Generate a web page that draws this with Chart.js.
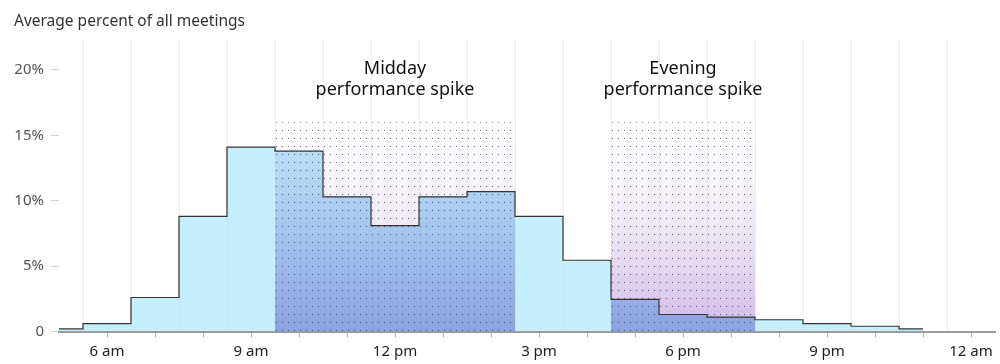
<!DOCTYPE html>
<html>
<head>
<meta charset="utf-8">
<script src="https://cdn.jsdelivr.net/npm/chart.js@4.4.1/dist/chart.umd.min.js"></script>
<style>
  html, body { margin: 0; padding: 0; background: #fff; }
  #wrap { width: 1000px; height: 364px; }
</style>
</head>
<body>
<div id="wrap"><canvas id="mainChart"></canvas></div>
<script>
// Datos: porcentaje medio de reuniones por hora del día
const hours = [5, 6, 7, 8, 9, 10, 11, 12, 13, 14, 15, 16, 17, 18, 19, 20, 21, 22, 23];
const pct = [0.2, 0.6, 2.6, 8.8, 14.1, 13.8, 10.3, 8.1, 10.3, 10.7, 8.8, 5.45, 2.45, 1.3, 1.1, 0.9, 0.6, 0.4, 0.2];

// Ejes
const labelHours = [6, 9, 12, 15, 18, 21, 24];
const labelText = ['6 am', '9 am', '12 pm', '3 pm', '6 pm', '9 pm', '12 am'];
const yTicks = [0, 5, 10, 15, 20];

// Zonas destacadas (primera y última hora de cada una)
const spikeNames = [['Midday', 'performance spike'], ['Evening', 'performance spike']];
const spikeFirst = [10, 17];
const spikeLast = [14, 19];
const spikeTop = 16;

const FONT = '"Noto Sans", "Open Sans", sans-serif';

function vGrad(chart, top, bottom) {
    const { ctx, chartArea, scales } = chart;
    if (!chartArea || !scales.y) return bottom;
    const g = ctx.createLinearGradient(0, scales.y.getPixelForValue(spikeTop), 0, scales.y.getPixelForValue(0));
    g.addColorStop(0, top);
    g.addColorStop(1, bottom);
    return g;
}

// patrón de puntos 6x8
const dotCanvas = document.createElement('canvas');
dotCanvas.width = 6;
dotCanvas.height = 8;
const dctx = dotCanvas.getContext('2d');
dctx.fillStyle = 'rgba(40, 40, 40, 0.7)';
dctx.fillRect(0, 2, 1, 1);
const dots = dctx.createPattern(dotCanvas, 'repeat');

const mainPoints = hours.map((h, i) => ({ x: h, y: pct[i] }));

const datasets = [];
spikeFirst.forEach((first, i) => {
    const last = spikeLast[i];
    const box = [{ x: first - 0.5, y: spikeTop }, { x: last + 0.5, y: spikeTop }];
    const part = [];
    for (let h = first; h <= last; h++) part.push({ x: h - 0.5, y: pct[hours.indexOf(h)] });
    part.push({ x: last + 0.5, y: pct[hours.indexOf(last)] });

    datasets.push({
        data: box, order: 5, stepped: 'before', fill: 'origin', borderWidth: 0, pointRadius: 0,
        backgroundColor: c => vGrad(c.chart, 'rgba(235, 225, 245, 0.05)', 'rgba(188, 158, 220, 0.72)')
    });
    datasets.push({
        data: part, order: 3, stepped: 'before', fill: 'origin', borderWidth: 0, pointRadius: 0,
        backgroundColor: c => vGrad(c.chart, 'rgba(190, 230, 250, 0.8)', 'rgba(132, 150, 222, 0.8)')
    });
    datasets.push({
        data: box, order: 2, stepped: 'before', fill: 'origin', borderWidth: 0, pointRadius: 0,
        backgroundColor: dots
    });
});

// relleno cian y línea escalonada
datasets.push({
    data: mainPoints, order: 4, stepped: 'middle', fill: 'origin', borderWidth: 0, pointRadius: 0,
    backgroundColor: 'rgba(150, 225, 250, 0.55)'
});
datasets.push({
    data: mainPoints, order: 1, stepped: 'middle', fill: false, borderWidth: 1.2, pointRadius: 0,
    borderColor: '#333333'
});

const spikeLabels = {
    id: 'spikeLabels',
    afterDatasetsDraw(chart) {
        const { ctx, scales: { x, y } } = chart;
        const top = y.getPixelForValue(spikeTop);
        ctx.save();
        ctx.font = '18px ' + FONT;
        ctx.fillStyle = '#111';
        ctx.textAlign = 'center';
        ctx.textBaseline = 'middle';
        spikeNames.forEach((lines, i) => {
            const cx = x.getPixelForValue((spikeFirst[i] + spikeLast[i]) / 2);
            ctx.fillText(lines[0], cx, top - 53);
            ctx.fillText(lines[1], cx, top - 32);
        });
        ctx.restore();
    }
};

new Chart(document.getElementById('mainChart'), {
    type: 'line',
    data: { datasets },
    plugins: [spikeLabels],
    options: {
        responsive: true,
        maintainAspectRatio: false,
        animation: false,
        layout: { padding: { left: 14, right: 5, top: 0, bottom: 0 } },
        plugins: {
            legend: { display: false },
            tooltip: { enabled: false },
            title: {
                display: true,
                text: 'Average percent of all meetings',
                align: 'start',
                color: '#333',
                font: { size: 15.5, family: FONT, weight: 'normal' },
                padding: { top: 12, bottom: 8 }
            }
        },
        scales: {
            x: {
                type: 'linear', min: 5, max: 24.5,
                afterBuildTicks: s => {
                    const t = [];
                    for (let h = 6; h <= 24; h++) t.push({ value: h });
                    s.ticks = t;
                },
                ticks: {
                    autoSkip: false, maxRotation: 0, padding: 5, color: '#222',
                    font: { size: 15, family: FONT },
                    callback: v => {
                        const k = labelHours.indexOf(v);
                        return k < 0 ? '' : labelText[k];
                    }
                },
                grid: { drawOnChartArea: false, drawTicks: true, tickLength: 6, color: '#b5b5b5' },
                border: { display: true, color: '#9a9a9a', width: 2 },
                afterFit: s => { s.height = 32.5; }
            },
            xg: {
                type: 'linear', position: 'bottom', min: 5, max: 24.5,
                afterBuildTicks: s => { s.ticks = hours.map(h => ({ value: h + 0.5 })); },
                ticks: { display: false },
                grid: { drawTicks: false, color: '#ececec', lineWidth: 1 },
                border: { display: false },
                afterFit: s => { s.height = 0; }
            },
            y: {
                min: 0, max: 22.4,
                afterBuildTicks: s => { s.ticks = yTicks.map(v => ({ value: v })); },
                ticks: {
                    color: '#555', padding: 7,
                    font: { size: 15, family: FONT },
                    callback: v => v === 0 ? '0' : v + '%'
                },
                grid: { drawOnChartArea: false, tickLength: 8, color: '#d5d5d5' },
                border: { display: false },
                afterFit: s => { s.width = 45; }
            }
        }
    }
});
</script>
</body>
</html>
